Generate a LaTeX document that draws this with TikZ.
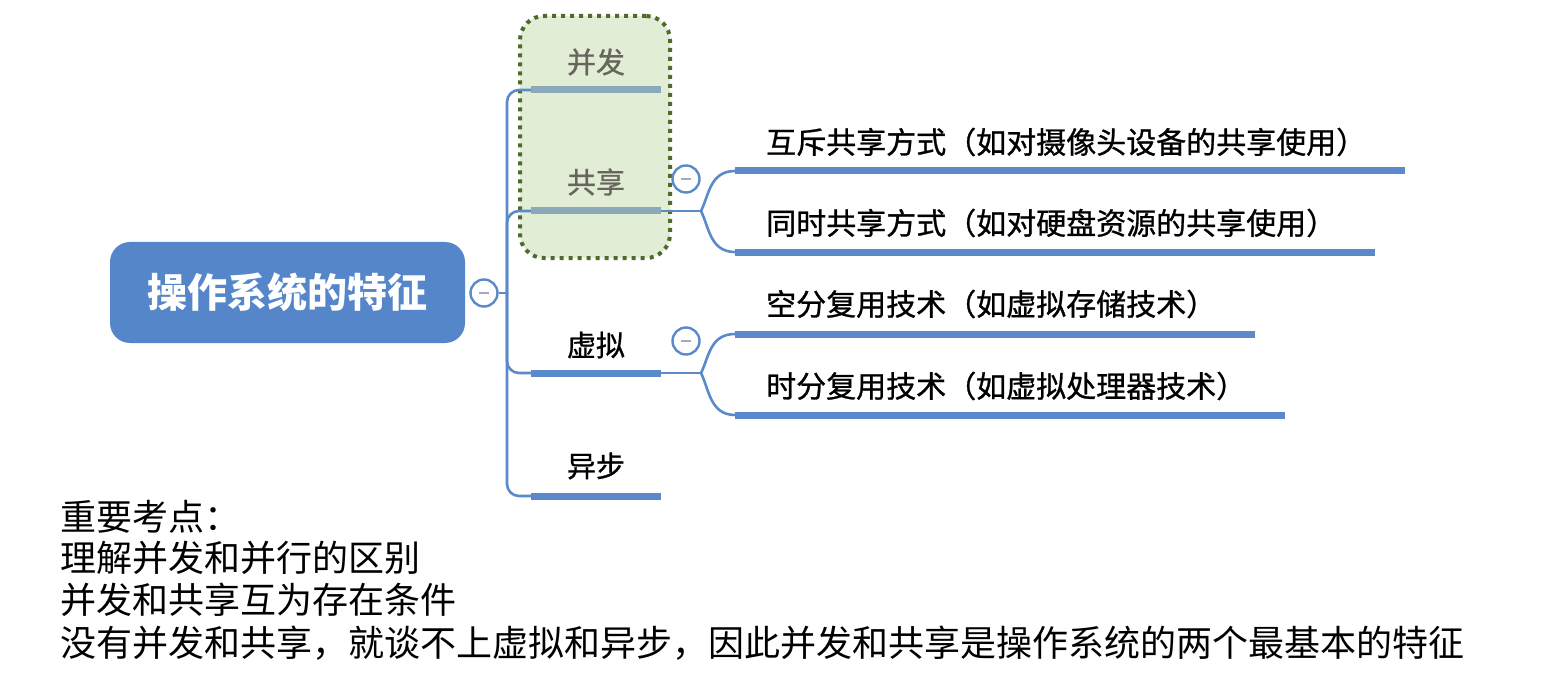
\documentclass[tikz,border=0pt]{standalone}
\usepackage{fontspec}
\setmainfont{Noto Sans CJK SC}
\newfontfamily\cjk{Noto Sans CJK SC}
\newfontfamily\cjkm[FakeBold=0.9]{Noto Sans CJK SC}
\definecolor{mblue}{HTML}{5A8AC9}
\definecolor{rootblue}{HTML}{5586CA}
\definecolor{grayline}{HTML}{8CA9B9}
\definecolor{hlfill}{HTML}{E2EDD5}
\definecolor{hldraw}{HTML}{4F6B2B}
\definecolor{fadetext}{HTML}{66665C}
\definecolor{minuscol}{HTML}{A8A8C0}
\tikzset{
  conn/.style={draw=mblue, line width=2.6pt},
  uline/.style={draw=mblue, line width=7pt},
  gline/.style={draw=grayline, line width=7pt},
  hlbox/.style={draw=hldraw, fill=hlfill, line width=4pt, dash pattern=on 4pt off 5pt, rounded corners=24pt},
  rootbox/.style={fill=rootblue, rounded corners=20pt, text=white, font=\cjk\fontsize{40}{44}\selectfont\bfseries},
  collapse/.style={circle, draw=mblue, fill=white, line width=2.4pt, minimum size=27pt, inner sep=0pt,
    path picture={\draw[minuscol, line width=2.4pt] ([xshift=-5pt]path picture bounding box.center) -- ([xshift=5pt]path picture bounding box.center);}},
  mainlab/.style={font=\cjkm\fontsize{29}{32}\selectfont, text=black, inner sep=0pt},
  fadelab/.style={font=\cjkm\fontsize{29}{32}\selectfont, text=fadetext, inner sep=0pt},
  childlab/.style={font=\cjkm\fontsize{30}{32}\selectfont, text=black, anchor=west, inner sep=0pt},
  notelab/.style={font=\cjk\fontsize{36}{40}\selectfont, text=black, anchor=west, inner sep=0pt}
}
\begin{document}
\begin{tikzpicture}[x=1pt,y=-1pt]
\useasboundingbox[fill=white] (0,0) rectangle (1542,679);

% highlight box
\node[hlbox, minimum width=150pt, minimum height=242pt] (hl) at (595,137) {};

% root
\node[rootbox, minimum width=355pt, minimum height=101pt] (root) at (287.5,292.5) {操作系统的特征};
\node[collapse] (c0) at (484,293) {};
\coordinate (j) at (507,293);
\draw[conn] (c0.east) -- (j);

% main branches
\coordinate (u1s) at (531,90);  \coordinate (u1e) at (661,90);
\coordinate (u2s) at (531,211); \coordinate (u2e) at (661,211);
\coordinate (u3s) at (531,373); \coordinate (u3e) at (661,373);
\coordinate (u4s) at (531,496); \coordinate (u4e) at (661,496);
\foreach \u in {u1s,u2s,u3s,u4s}{\draw[conn, rounded corners=12pt] (j) |- (\u);}
\draw[gline] (u1s) -- (u1e);
\draw[gline] (u2s) -- (u2e);
\draw[uline] (u3s) -- (u3e);
\draw[uline] (u4s) -- (u4e);
\node[fadelab] (t1) at (596,62) {并发};
\node[fadelab] (t2) at (596,182) {共享};
\node[mainlab] (t3) at (596,345) {虚拟};
\node[mainlab] (t4) at (596,466) {异步};

% children of 共享
\node[collapse] (c2) at (686,179) {};
\coordinate (k2) at (701,211);
\coordinate (a1s) at (735,171); \coordinate (a1e) at (1405,171);
\coordinate (a2s) at (735,252); \coordinate (a2e) at (1375,252);
\draw[conn] (u2e) -- (k2);
\draw[conn] (k2) .. controls (709,195) and (710,171) .. (a1s);
\draw[conn] (k2) .. controls (709,227) and (710,252) .. (a2s);
\draw[uline] (a1s) -- (a1e);
\draw[uline] (a2s) -- (a2e);
\node[childlab] (a1) at (766,142) {互斥共享方式（如对摄像头设备的共享使用）};
\node[childlab] (a2) at (766,223) {同时共享方式（如对硬盘资源的共享使用）};

% children of 虚拟
\node[collapse] (c3) at (686,341) {};
\coordinate (k3) at (701,373);
\coordinate (b1s) at (735,334); \coordinate (b1e) at (1255,334);
\coordinate (b2s) at (735,415); \coordinate (b2e) at (1285,415);
\draw[conn] (u3e) -- (k3);
\draw[conn] (k3) .. controls (709,357) and (710,334) .. (b1s);
\draw[conn] (k3) .. controls (709,389) and (710,415) .. (b2s);
\draw[uline] (b1s) -- (b1e);
\draw[uline] (b2s) -- (b2e);
\node[childlab] (b1) at (766,304) {空分复用技术（如虚拟存储技术）};
\node[childlab] (b2) at (766,386) {时分复用技术（如虚拟处理器技术）};

% notes
\node[notelab] (n1) at (60,517) {重要考点：};
\node[notelab] (n2) at (60,558) {理解并发和并行的区别};
\node[notelab] (n3) at (60,600) {并发和共享互为存在条件};
\node[notelab] (n4) at (60,643) {没有并发和共享，就谈不上虚拟和异步，因此并发和共享是操作系统的两个最基本的特征};
\end{tikzpicture}
\end{document}
